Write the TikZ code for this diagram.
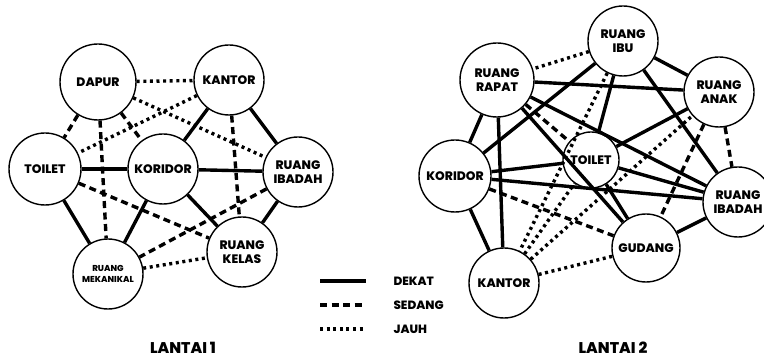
\documentclass[tikz,border=0pt]{standalone}
\usepackage{fontspec}
\setmainfont{Poppins ExtraBold}
\begin{document}
\begin{tikzpicture}[x=1pt,y=-1pt,
  room/.style={circle, draw, line width=1.4pt, fill=white, inner sep=0pt,
    minimum size=#1, align=center,
    font=\fontsize{12.3}{14.5}\selectfont},
  room/.default=70pt,
  dekat/.style={line width=3.4pt},
  sedang/.style={line width=3.4pt, dash pattern=on 7pt off 4.5pt},
  jauh/.style={line width=3.4pt, dash pattern=on 3pt off 3.6pt},
  legendtext/.style={anchor=west, font=\fontsize{12}{14}\selectfont},
  floortitle/.style={font=\fontsize{15.5}{18}\selectfont}]
\useasboundingbox (0,0) rectangle (764,358);

% ---------- Lantai 1 ----------
\node[room=76pt] (dapur) at (98,82) {DAPUR};
\node[room] (kantorA) at (229,80) {KANTOR};
\node[room=72pt] (toiletA) at (45,169) {TOILET};
\node[room] (koridorA) at (163,169) {KORIDOR};
\node[room] (ibadahA) at (298,172) {RUANG\\IBADAH};
\node[room] (kelas) at (242,252) {RUANG\\KELAS};
\node[room, font=\fontsize{8.6}{11}\selectfont] (mekanikal) at (108,274) {RUANG\\MEKANIKAL};

\draw[jauh] (dapur) -- (kantorA);
\draw[sedang] (dapur) -- (toiletA);
\draw[sedang] (dapur) -- (koridorA);
\draw[sedang] (dapur) -- (mekanikal);
\draw[jauh] (dapur) -- (ibadahA);
\draw[jauh] (kantorA) -- (toiletA);
\draw[dekat] (kantorA) -- (koridorA);
\draw[dekat] (kantorA) -- (ibadahA);
\draw[sedang] (kantorA) -- (kelas);
\draw[dekat] (toiletA) -- (koridorA);
\draw[dekat] (toiletA) -- (mekanikal);
\draw[sedang] (toiletA) -- (kelas);
\draw[dekat] (koridorA) -- (ibadahA);
\draw[dekat] (koridorA) -- (mekanikal);
\draw[dekat] (koridorA) -- (kelas);
\draw[dekat] (ibadahA) -- (kelas);
\draw[sedang] (ibadahA) -- (mekanikal);
\draw[jauh] (mekanikal) -- (kelas);

\node[floortitle] (titleA) at (183,348) {LANTAI 1};

% ---------- Legend ----------
\coordinate (la) at (320,281); \coordinate (lb) at (366,281);
\coordinate (lc) at (320,305); \coordinate (ld) at (366,305);
\coordinate (le) at (320,329); \coordinate (lf) at (366,329);
\draw[dekat] (la) -- (lb);
\draw[sedang] (lc) -- (ld);
\draw[jauh] (le) -- (lf);
\node[legendtext] (tdekat) at (390,281) {DEKAT};
\node[legendtext] (tsedang) at (390,305) {SEDANG};
\node[legendtext] (tjauh) at (390,329) {JAUH};

% ---------- Lantai 2 ----------
\node[room] (ibu) at (623,41) {RUANG\\IBU};
\node[room=74pt] (rapat) at (497,80) {RUANG\\RAPAT};
\node[room] (anak) at (719,92) {RUANG\\ANAK};
\node[room=56pt] (toiletB) at (591,160) {TOILET};
\node[room=72pt] (koridorB) at (455,176) {KORIDOR};
\node[room] (ibadahB) at (738,202) {RUANG\\IBADAH};
\node[room=68pt] (gudang) at (646,248) {GUDANG};
\node[room] (kantorB) at (504,283) {KANTOR};

\draw[dekat] (ibu) -- (anak);
\draw[dekat] (ibu) -- (koridorB);
\draw[dekat] (ibu) -- (toiletB);
\draw[dekat] (ibu) -- (ibadahB);
\draw[dekat] (rapat) -- (anak);
\draw[dekat] (rapat) -- (ibadahB);
\draw[dekat] (rapat) -- (koridorB);
\draw[dekat] (rapat) -- (kantorB);
\draw[dekat] (rapat) -- (gudang);
\draw[dekat] (anak) -- (toiletB);
\draw[dekat] (toiletB) -- (koridorB);
\draw[dekat] (toiletB) -- (ibadahB);
\draw[dekat] (toiletB) -- (gudang);
\draw[dekat] (koridorB) -- (ibadahB);
\draw[dekat] (koridorB) -- (kantorB);
\draw[dekat] (ibadahB) -- (gudang);
\draw[sedang] (rapat) -- (toiletB);
\draw[sedang] (anak) -- (ibadahB);
\draw[sedang] (anak) -- (gudang);
\draw[sedang] (koridorB) -- (gudang);
\draw[jauh] (ibu) -- (rapat);
\draw[jauh] (ibu) -- (kantorB);
\draw[jauh] (kantorB) -- (toiletB);
\draw[jauh] (kantorB) -- (anak);
\draw[jauh] (kantorB) -- (gudang);

\node[floortitle] (titleB) at (613,348) {LANTAI 2};
\end{tikzpicture}
\end{document}
